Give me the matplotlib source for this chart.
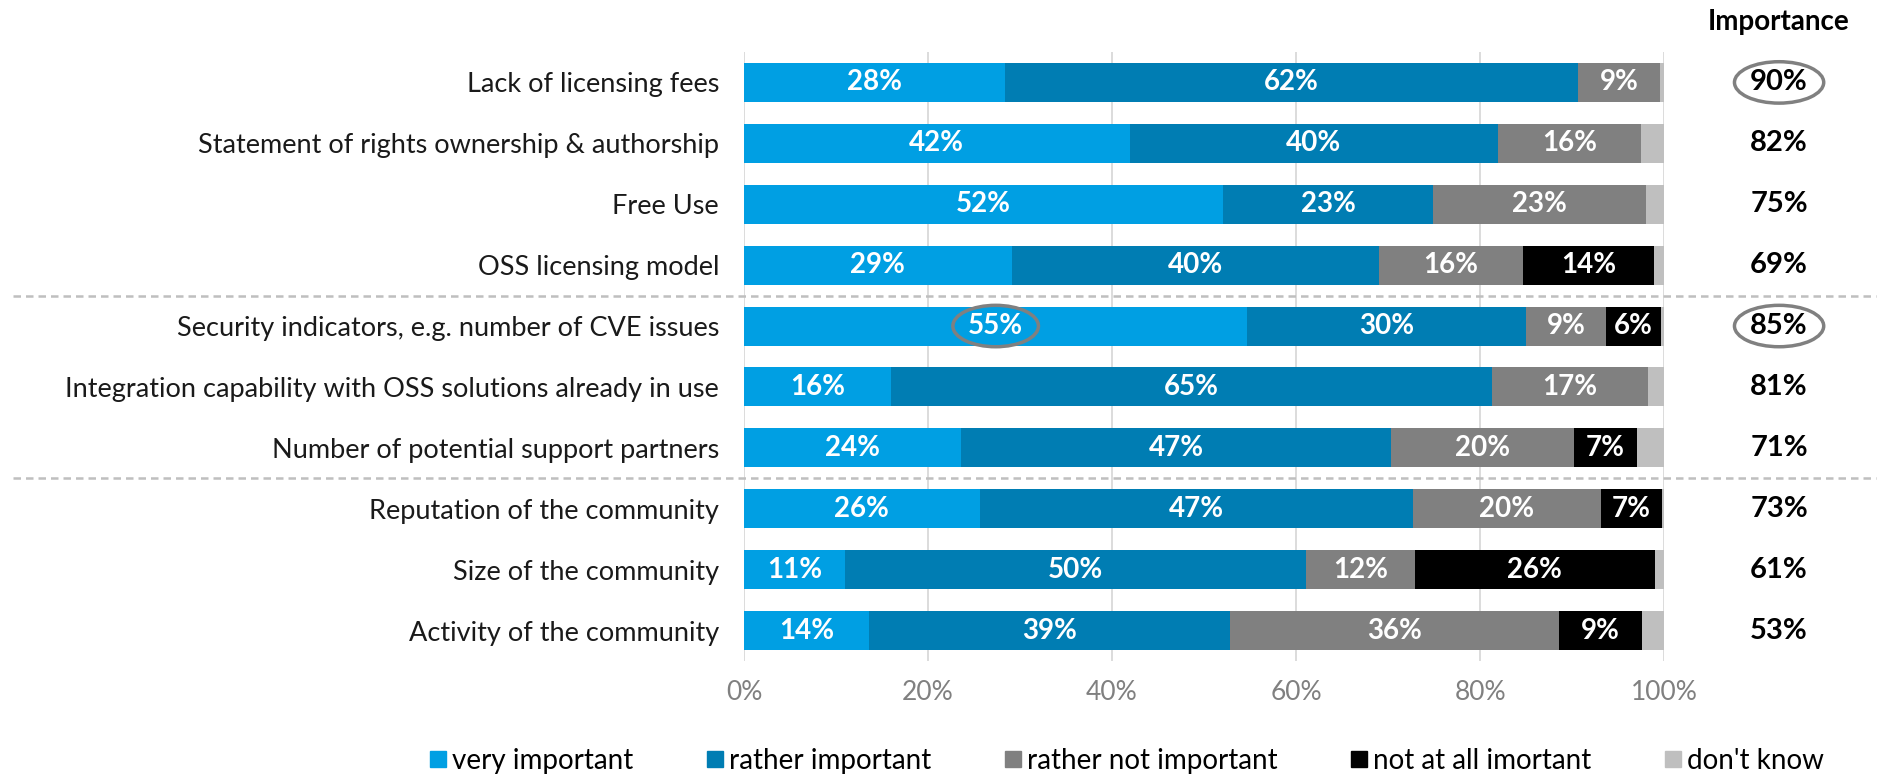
import numpy as np
import matplotlib
matplotlib.use("Agg")
from matplotlib import pyplot as plt
from matplotlib.patches import Ellipse
from matplotlib.lines import Line2D
from matplotlib.transforms import blended_transform_factory

plt.rcParams['font.family'] = ['Lato', 'DejaVu Sans']

categories = ['Lack of licensing fees',
              'Statement of rights ownership & authorship',
              'Free Use',
              'OSS licensing model',
              'Security indicators, e.g. number of CVE issues',
              'Integration capability with OSS solutions already in use',
              'Number of potential support partners',
              'Reputation of the community',
              'Size of the community',
              'Activity of the community']
very_important = [28.4, 41.9, 52.1, 29.1, 54.7, 16.0, 23.6, 25.6, 11.0, 13.6]
rather_important = [62.2, 40.0, 22.8, 39.9, 30.3, 65.3, 46.7, 47.1, 50.1, 39.2]
rather_not = [9.0, 15.6, 23.1, 15.7, 8.7, 16.9, 19.9, 20.4, 11.8, 35.8]
not_at_all = [0.0, 0.0, 0.0, 14.2, 6.0, 0.0, 6.9, 6.7, 26.1, 9.0]
dont_know = [0.4, 2.5, 2.0, 1.1, 0.3, 1.8, 2.9, 0.2, 1.0, 2.4]
importance = [90, 82, 75, 69, 85, 81, 71, 73, 61, 53]

series = [very_important, rather_important, rather_not, not_at_all, dont_know]
names = ['very important', 'rather important', 'rather not important',
         'not at all imortant', "don't know"]
colors = ['#009fe3', '#007db3', '#808080', '#000000', '#bfbfbf']

fig = plt.figure(figsize=(18.85, 7.78), dpi=100)
ax = fig.add_axes([0.3947, 0.1504, 0.4881, 0.7828])

y = np.arange(len(categories))
left = np.zeros(len(categories))
for vals, col, name in zip(series, colors, names):
    vals = np.array(vals)
    ax.barh(y, vals, left=left, height=0.64, color=col, label=name, zorder=2)
    if name != "don't know":
        for yi, (l, v) in enumerate(zip(left, vals)):
            if v >= 5:
                ax.text(l + v / 2, yi, f'{v:.0f}%', ha='center', va='center',
                        color='white', fontsize=20, fontweight='bold', zorder=3)
    left = left + vals

ax.set_xlim(0, 100)
ax.set_ylim(len(categories) - 0.5, -0.5)
ax.set_xticks(np.arange(0, 101, 20))
ax.set_xticklabels([f'{t}%' for t in range(0, 101, 20)], color='#808080', fontsize=19)
ax.set_yticks(y)
ax.set_yticklabels(categories, fontsize=19.5, color='#1a1a1a')
ax.tick_params(length=0, pad=18)
ax.tick_params(axis='x', pad=14)
ax.grid(axis='x', color='#d9d9d9', lw=1.3, zorder=0)
for s in ax.spines.values():
    s.set_visible(False)

# importance column
imp_x = 112.5
ax.text(imp_x, -1.0, 'Importance', ha='center', va='center', fontsize=20,
        fontweight='bold', clip_on=False)
for yi, v in enumerate(importance):
    ax.text(imp_x, yi, f'{v}%', ha='center', va='center', fontsize=21,
            fontweight='bold', clip_on=False)

# highlight circles
for cx, cy, w in [(imp_x, 0, 9.7), (imp_x, 4, 9.7), (27.35, 4, 9.3)]:
    ax.add_patch(Ellipse((cx, cy), w, 0.68, fill=False, ec='#808080', lw=2.5,
                         clip_on=False, zorder=4))

# group separators
tr = blended_transform_factory(fig.transFigure, ax.transData)
for sy in [3.5, 6.5]:
    ax.add_line(Line2D([0.007, 0.995], [sy, sy], transform=tr, color='#bfbfbf',
                       lw=1.8, ls=(0, (3, 2)), clip_on=False))

handles = [Line2D([], [], marker='s', ls='', color=c, markersize=11) for c in colors]
fig.legend(handles, names, loc='center', bbox_to_anchor=(0.597, 0.022), ncol=5,
           frameon=False, fontsize=20, handletextpad=0.1, columnspacing=2.55,
           handlelength=0.8)

fig.savefig('out.png', dpi=100)
